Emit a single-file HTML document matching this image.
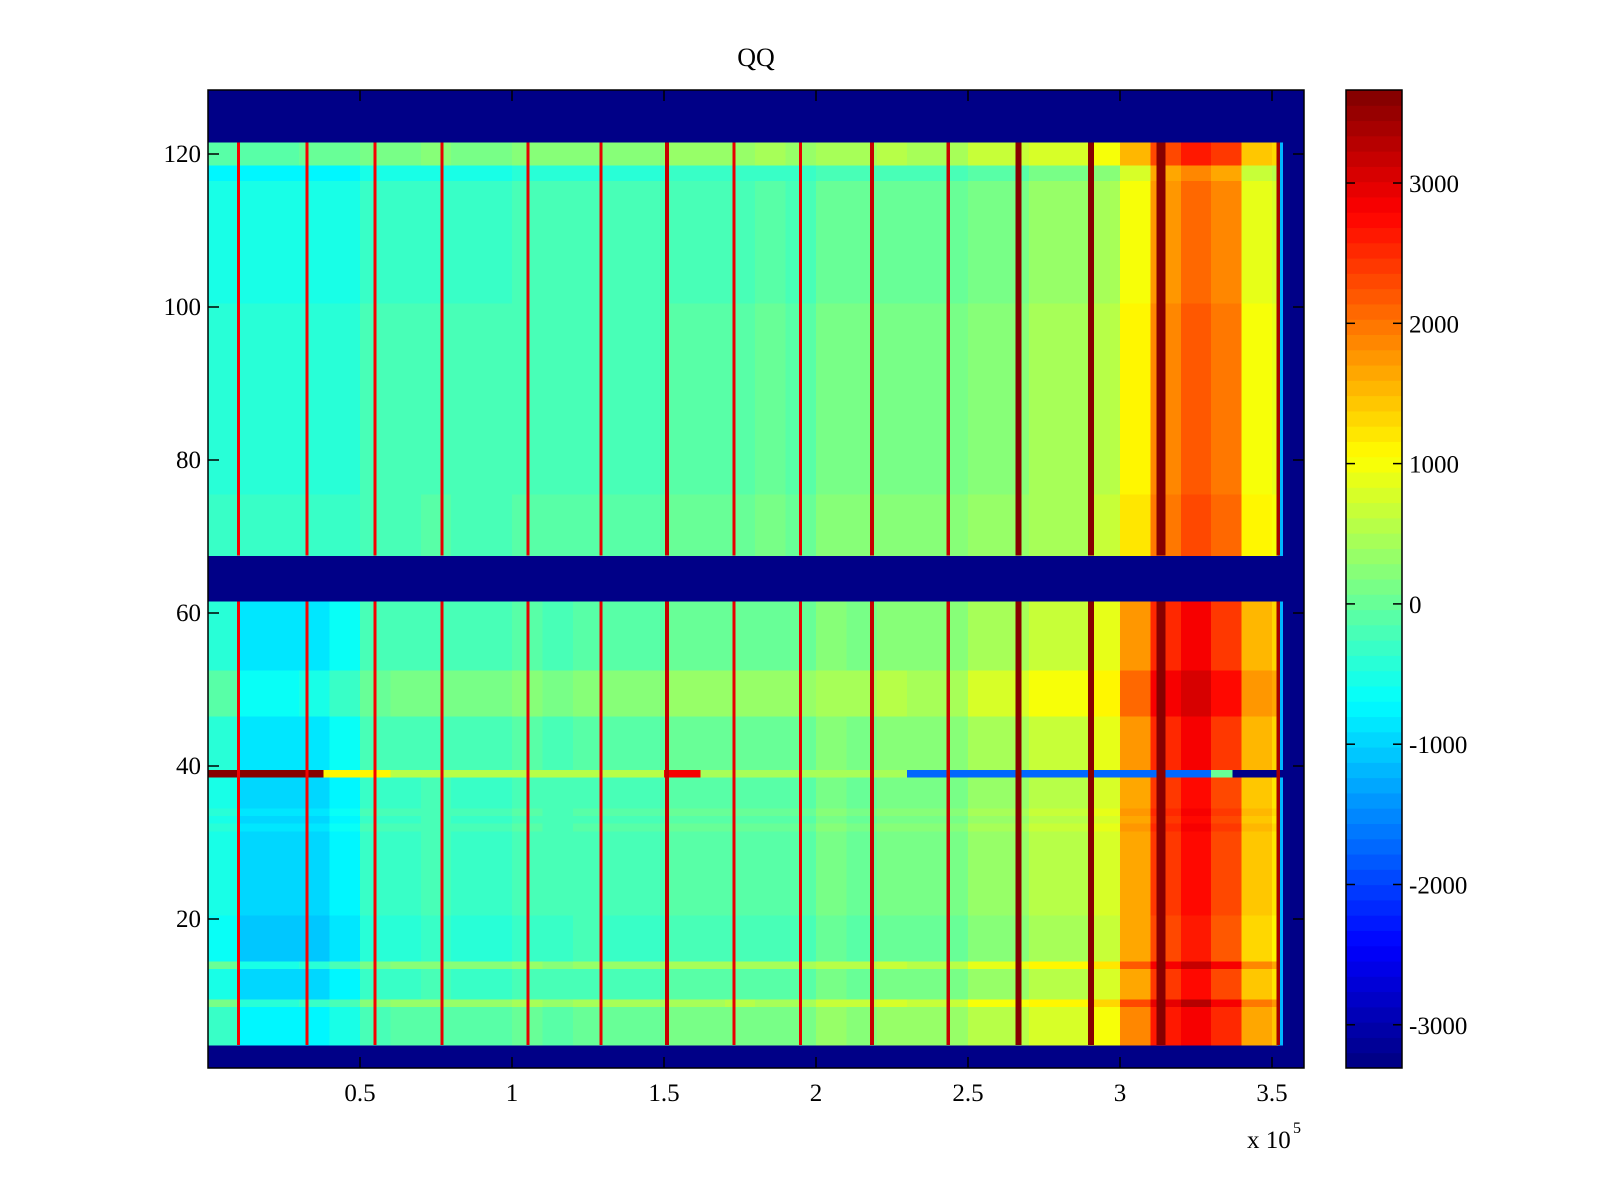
<!DOCTYPE html>
<html><head><meta charset="utf-8"><title>QQ</title>
<style>
html,body{margin:0;padding:0;background:#fff;}
svg{display:block;font-family:"Liberation Serif",serif;}
</style></head>
<body>
<svg id="chart" width="1600" height="1200" viewBox="0 0 1600 1200">
<g id="plot" shape-rendering="crispEdges"></g>
<g id="cbar"></g>
<g id="axes"></g>
</svg>
<script>
// ---- data (x in units of 1e5) ----
const binStarts = [0,0.1,0.2,0.3,0.4,0.5,0.6,0.7,0.8,0.9,1.0,1.1,1.2,1.3,1.4,1.5,1.6,1.7,1.8,1.9,2.0,2.1,2.2,2.3,2.4,2.5,2.6,2.7,2.8,2.9,3.0,3.1,3.2,3.3,3.4,3.5];
const lowerProfile = [-500,-1000,-1000,-950,-750,-350,-300,-250,-300,-300,-200,-250,-150,-200,-200,-100,-100,-50,-100,-100,100,50,150,100,100,350,350,550,550,750,1700,2400,2700,2300,1400,1200];
const upperProfile = [-450,-450,-450,-400,-400,-250,-250,-200,-250,-250,-150,-150,-150,-150,-150,-50,-50,-50,0,-50,100,100,150,100,100,250,250,400,400,550,1100,1900,2200,2000,1000,900];
const rowOffset = [
 null,null,null,200,200,200,200,200,600,0, 0,0,0,500,-100,-100,-100,-100,-100,-100,
 0,0,0,0,0,0,0,0,0,0, 0,100,0,100,0,0,0,0,0,100, 100,100,100,100,100,100,400,400,400,400,
 400,400,100,100,100,100,100,100,100,100, 100,null,null,null,null,null,null,100,100,100,
 100,100,100,100,100,0,0,0,0,0, 0,0,0,0,0,0,0,0,0,0, 0,0,0,0,0,0,0,0,0,0,
 -100,-100,-100,-100,-100,-100,-100,-100,-100,-100, -100,-100,-100,-100,-100,-100,-300,-300,400,400,
 400,null,null,null,null,null,null,null];
const stripePos = [0.10,0.325,0.549,0.770,1.052,1.293,1.510,1.731,1.949,2.184,2.435,2.666,2.904,3.135,3.52];
const stripeVal = [2900,2900,2900,3000,3000,3000,3200,3000,3000,3200,3200,3600,3600,3650,3400];
const stripeWidth = [0.01,0.01,0.01,0.01,0.01,0.01,0.012,0.01,0.01,0.012,0.012,0.02,0.02,0.03,0.012];
const row39Start = [0,0.38,0.6,1.5,1.62,2.3,3.3,3.37];
const row39Val = [3600,1100,600,2900,500,-1700,0,-3300];
const dataEnd = 3.52;
const xTicks = [0.5,1,1.5,2,2.5,3,3.5];
const yTicks = [20,40,60,80,100,120];
const cTicks = [-3000,-2000,-1000,0,1000,2000,3000];
const cMin = -3308, cMax = 3663;

// ---- scales ----
const X0=208, X1=1304, Y0=90, Y1=1068;
const xs = v => X0 + v*304;
const ys = v => 154 + (120 - v)*7.65;
const NS='http://www.w3.org/2000/svg';
function mk(tag, attrs, parent){const e=document.createElementNS(NS,tag);for(const k in attrs)e.setAttribute(k,attrs[k]);parent.appendChild(e);return e;}
function clamp(v){return Math.max(0,Math.min(1,v));}
function jet(val){
  let t=(val-cMin)/(cMax-cMin); t=clamp(t);
  let i=Math.min(63,Math.floor(t*64)); const tt=(i+0.5)/64;
  const r=clamp(1.5-Math.abs(4*tt-3)),g=clamp(1.5-Math.abs(4*tt-2)),b=clamp(1.5-Math.abs(4*tt-1));
  return `rgb(${Math.round(r*255)},${Math.round(g*255)},${Math.round(b*255)})`;
}
const plot=document.getElementById('plot');
const bg=mk('rect',{x:X0,y:Y0,width:X1-X0,height:Y1-Y0,fill:jet(cMin)},plot);



for(let r=1;r<=128;r++){
  const off=rowOffset[r-1];
  if(off===null||off===undefined) continue;
  const y=ys(r+0.5), h=7.9;
  if(r===39){
    for(let k=0;k<row39Start.length;k++){
      const a=row39Start[k], b=(k+1<row39Start.length)?row39Start[k+1]:dataEnd;
      const c=mk('rect',{x:xs(a),y:y,width:xs(b)-xs(a)+0.5,height:h,fill:jet(row39Val[k])},plot);
      
      
    }
    continue;
  }
  const prof = r>=68 ? upperProfile : lowerProfile;
  for(let k=0;k<binStarts.length;k++){
    const a=binStarts[k], b=Math.min(dataEnd,(k+1<binStarts.length)?binStarts[k+1]:dataEnd);
    const c=mk('rect',{x:xs(a),y:y,width:xs(b)-xs(a)+0.5,height:h,fill:jet(prof[k]+off)},plot);
    
    
  }
  const f=mk('rect',{x:xs(dataEnd),y:y,width:5,height:h,fill:jet(-1200)},plot);
  
  
}
const blocks=[[3.5,61.5],[67.5,121.5]];
for(let s=0;s<stripePos.length;s++){
  for(const bl of blocks){
    const st=mk('rect',{x:xs(stripePos[s]-stripeWidth[s]/2),y:ys(bl[1]),width:stripeWidth[s]*304,height:ys(bl[0])-ys(bl[1]),fill:jet(stripeVal[s])},plot);
    
    
  }
}

// ---- axes ----
const axes=document.getElementById('axes');
const fr=mk('rect',{x:X0,y:Y0,width:X1-X0,height:Y1-Y0,fill:'none',stroke:'#000','stroke-width':1.5},axes);


for(const t of xTicks){
  const x=xs(t);
  mk('line',{x1:x,y1:Y1,x2:x,y2:Y1-11,stroke:'#000','stroke-width':1.5},axes);
  mk('line',{x1:x,y1:Y0,x2:x,y2:Y0+11,stroke:'#000','stroke-width':1.5},axes);
  const tx=mk('text',{x:x,y:1101,'font-size':25,'text-anchor':'middle'},axes);
  tx.textContent=String(t);
  
  
}
for(const t of yTicks){
  const y=ys(t);
  mk('line',{x1:X0,y1:y,x2:X0+11,y2:y,stroke:'#000','stroke-width':1.5},axes);
  mk('line',{x1:X1,y1:y,x2:X1-11,y2:y,stroke:'#000','stroke-width':1.5},axes);
  const tx=mk('text',{x:201,y:y+8,'font-size':25,'text-anchor':'end'},axes);
  tx.textContent=String(t);
  
  
}
const title=mk('text',{x:756,y:66,'font-size':26,'text-anchor':'middle'},axes);
title.textContent='QQ';


const ex=mk('text',{x:1247,y:1148,'font-size':25},axes);
ex.textContent='x 10';


const ex2=mk('text',{x:1293,y:1133,'font-size':16},axes);
ex2.textContent='5';



// ---- colorbar ----
const cb=document.getElementById('cbar');
const CX0=1346,CX1=1402;
const cy=v=>Y1-(v-cMin)/(cMax-cMin)*(Y1-Y0);
for(let i=0;i<64;i++){
  const a=cMin+(cMax-cMin)*i/64, b=cMin+(cMax-cMin)*(i+1)/64;
  const band=mk('rect',{x:CX0,y:cy(b),width:CX1-CX0,height:Math.min(cy(a),Y1)-cy(b)+(i>0?0.5:0),fill:jet((a+b)/2)},cb);
  
  
}
const cfr=mk('rect',{x:CX0,y:Y0,width:CX1-CX0,height:Y1-Y0,fill:'none',stroke:'#000','stroke-width':1.5},cb);


for(const t of cTicks){
  const y=cy(t);
  mk('line',{x1:CX0,y1:y,x2:CX0+9,y2:y,stroke:'#000','stroke-width':1.5},cb);
  mk('line',{x1:CX1,y1:y,x2:CX1-9,y2:y,stroke:'#000','stroke-width':1.5},cb);
  const tx=mk('text',{x:1409,y:y+9,'font-size':25},cb);
  tx.textContent=String(t);
  
  
}
</script>
</body></html>
